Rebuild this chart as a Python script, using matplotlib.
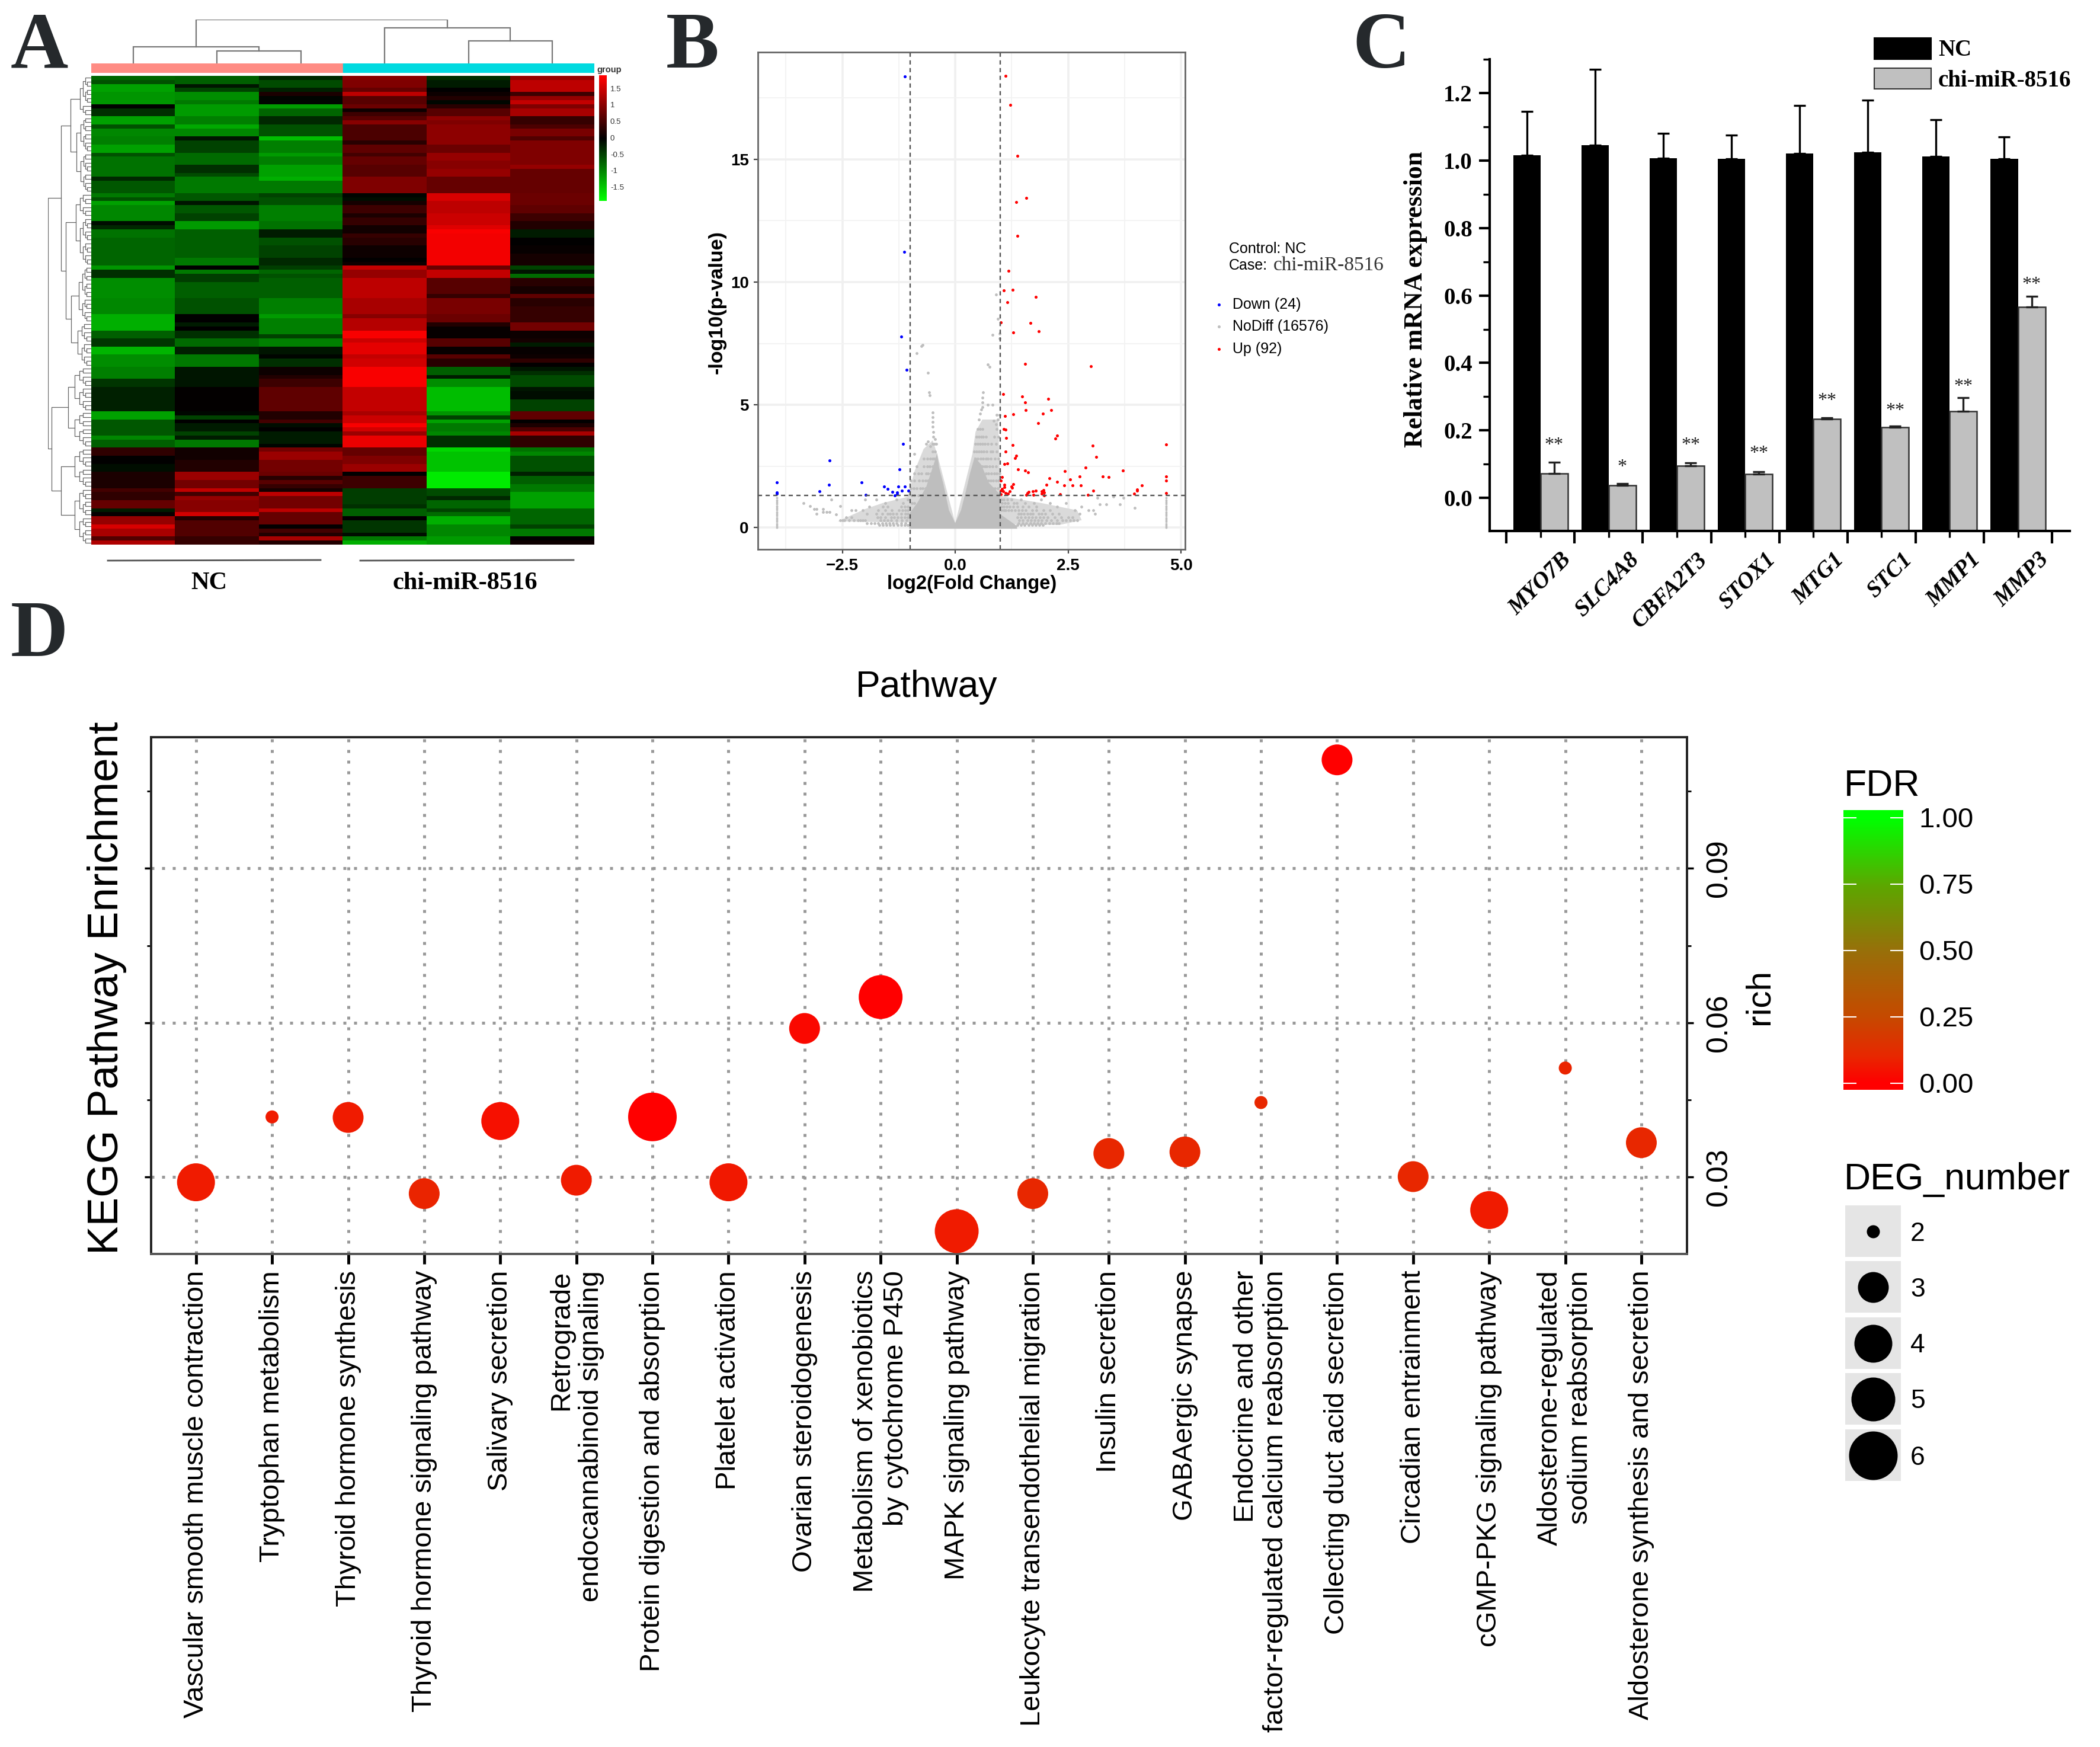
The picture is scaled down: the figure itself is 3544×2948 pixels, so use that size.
import numpy as np
import matplotlib
matplotlib.use('Agg')
import matplotlib.pyplot as plt
from matplotlib.colors import LinearSegmentedColormap
from matplotlib.patches import Rectangle
from matplotlib.ticker import MultipleLocator, NullFormatter

W, H = 3544, 2948
SANS = 'Liberation Sans'
SERIF = 'Liberation Serif'
plt.rcParams['font.family'] = SANS

# panel A: heatmap columns as (end row, value) runs
nc1 = [(1, -.75), (2, -.6), (4, -1.2), (7, -1.1), (8, 0), (10, -.35), (12, -1.2), (13, -.6), (15, -1), (17, -.95),
       (19, -1.2), (20, -.6), (25, -.85), (26, -.3), (29, -.65), (30, -.9), (31, -.6), (32, -1.2), (36, -1), (37, -.1),
       (38, -.3), (40, -.85), (47, -.75), (48, -1.1), (50, -.35), (55, -1.05), (59, -1), (63, -1.3), (65, -.7),
       (67, -.4), (69, -1.35), (72, -1.05), (75, -.95), (77, -.4), (83, -.25), (85, -1.2), (89, -.65), (90, -1),
       (92, -.7), (94, .35), (96, 0), (98, -.1), (102, .2), (103, .5), (105, .35), (107, .75), (108, -.2), (109, .05),
       (111, 1.1), (112, 1.6), (114, 1.25), (115, .6), (116, 1.3)]
nc2 = [(2, -.7), (3, -.15), (4, -.5), (6, -1.05), (7, -.9), (10, -1.15), (12, -.95), (13, -1.25), (15, -1), (16, -.15),
       (19, -.5), (22, -.8), (24, -.35), (25, -.55), (29, -.9), (31, -.65), (32, -.15), (34, -.65), (36, -.5),
       (38, -1.15), (45, -.7), (47, -.9), (48, 0), (49, -.9), (51, -.45), (55, -.7), (59, -.6), (61, 0), (62, -.2),
       (63, 0), (65, -.35), (67, -.8), (69, -.25), (72, -.9), (77, -.15), (83, .02), (84, -.05), (85, -.5), (86, 0),
       (88, -.2), (89, -.5), (90, -.2), (92, -.9), (95, .12), (98, .25), (100, 1.15), (102, .85), (103, 1.45),
       (104, .5), (105, 1.1), (108, 1), (109, 1.55), (110, .25), (114, .6), (116, .4)]
nc3 = [(1, -.3), (3, -.55), (4, -.25), (5, .2), (7, -.03), (8, -1.15), (10, -.75), (12, -.3), (15, -.6), (16, -1.4),
       (19, -.95), (20, -1.15), (22, -.95), (25, -1.2), (26, -1.3), (29, -.9), (30, -.5), (32, -.6), (36, -.95),
       (38, -.85), (40, -.2), (42, -.6), (45, -.5), (47, -.3), (48, -.45), (49, -.75), (50, -.6), (55, -.7), (59, -.95),
       (60, -1.15), (64, -.95), (65, -.5), (67, -.95), (69, -.15), (70, -.03), (72, -.35), (74, .1), (75, .25),
       (77, .45), (83, .7), (85, .25), (86, .5), (87, -.1), (88, 0), (91, -.2), (92, -.03), (93, .85), (95, 1.15),
       (98, .85), (99, .8), (100, .3), (101, .65), (102, .4), (103, .15), (104, 1.4), (107, .85), (108, 1.4), (111, .75),
       (112, .02), (113, .5), (114, .25), (115, 1.25), (116, .25)]
mir1 = [(1, 1), (3, .95), (4, .75), (5, 1.4), (7, .65), (8, .8), (9, .1), (10, .45), (11, .65), (12, 1), (16, .55),
        (17, .3), (19, .7), (20, .5), (22, .75), (25, .65), (29, .95), (30, -.03), (31, -.1), (32, .15), (34, .45),
        (35, .2), (37, .4), (39, .13), (40, .4), (42, .3), (45, .1), (46, 0), (47, .1), (48, 1.45), (50, 1.1), (55, 1.4),
        (59, 1.25), (60, 1), (63, 1.35), (65, 1.85), (66, 1.5), (69, 1.7), (70, 1.45), (72, 1.55), (77, 1.85),
        (83, 1.45), (84, 1.25), (86, 1.5), (87, 1.85), (88, 1.55), (89, 1.15), (92, 1.75), (94, .75), (96, .95),
        (98, 1.15), (99, 0), (102, .45), (106, -.45), (107, -.35), (109, -.7), (110, 0), (113, -.4), (114, -.1),
        (115, -.9), (116, -1.3)]
mir2 = [(1, -.35), (3, -.2), (4, 0), (5, .1), (6, .25), (7, -.05), (8, .3), (10, .65), (11, 1.05), (12, .95), (17, 1.05),
        (19, .8), (21, 1.1), (23, 1), (25, 1.1), (29, .75), (31, 1.6), (34, 1.4), (37, 1.5), (38, 1.65), (39, 1.85),
        (47, 1.8), (48, .8), (50, 1.45), (54, .65), (55, .4), (59, .9), (61, .8), (62, .25), (65, .05), (67, .65),
        (69, .05), (70, .65), (72, .3), (74, -.7), (75, -.2), (77, -1.05), (83, -1.4), (84, -1.1), (85, -.5), (86, -1.2),
        (88, -.9), (89, -1), (92, -.35), (93, -1.6), (98, -1.45), (102, -1.75), (104, -.55), (105, -.3), (107, -.75),
        (108, -.5), (109, -.8), (111, -1.3), (114, -1), (116, -1.15)]
mir3 = [(1, 1.1), (4, 1.4), (5, .45), (6, 1.1), (7, 1.45), (8, .95), (10, 1.25), (12, .4), (13, .55), (15, .9), (16, .6),
        (22, .95), (23, 1.1), (29, .75), (32, .8), (34, .7), (36, .45), (38, .25), (40, -.2), (42, 0), (44, .05),
        (47, .15), (48, -.5), (49, -.15), (50, -.8), (52, .3), (54, .15), (55, .7), (57, .3), (59, .4), (61, .4),
        (63, .85), (65, .1), (66, .15), (67, -.2), (69, .05), (70, .1), (71, .35), (72, .02), (73, -.15), (74, -.35),
        (77, -.55), (78, -.15), (80, -.1), (83, -.5), (85, .7), (86, 0), (87, .2), (88, .55), (89, 1.25), (92, .35),
        (93, -.85), (94, -1), (98, -.6), (99, -.25), (101, -.7), (103, -.9), (107, -1.2), (111, -.75), (112, -.5),
        (114, -.9), (115, 0), (116, .1)]
heat_cols = [nc1, nc2, nc3, mir1, mir2, mir3]
heat_ticks = [1.5, 1, 0.5, 0, -0.5, -1, -1.5]
col_tree = (113, (43, 1, (32, 1, 1)), (91, 1, (58, 1, 1)))
row_tree = (106,
            (74, (51, (28, 7, 3), (37, 9, 10)), (63, (38, 6, 12), (50, (30, 8, 6), (33, 5, 6)))),
            (98, (56, 11, 9), (74, (40, 5, 5), (40, 7, 7))))

# panel B: volcano points
volcano_red = [(1.12, 18.41), (1.22, 17.23), (1.38, 15.14), (1.35, 13.27), (1.57, 13.43), (1.38, 11.88), (1.18, 10.45),
               (1.07, 9.66), (1.27, 9.69), (1.78, 9.39), (1.15, 9.18), (1.01, 8.36), (1.66, 8.34), (1.28, 7.94),
               (1.85, 7.99), (1.55, 6.68), (3.0, 6.56), (1.06, 5.44), (1.48, 5.34), (1.55, 5.09), (2.06, 5.25),
               (1.56, 4.78), (1.29, 4.61), (1.10, 4.55), (2.12, 4.78), (1.94, 4.64), (1.84, 4.25), (1.07, 4.01),
               (1.11, 3.98), (1.13, 3.66), (2.26, 3.74), (2.22, 3.62), (1.27, 3.37), (3.04, 3.33), (4.67, 3.38),
               (1.12, 3.10), (3.12, 2.87), (1.35, 2.93), (1.33, 2.82), (1.15, 2.61), (1.09, 2.59), (1.39, 2.38),
               (2.88, 2.45), (1.55, 2.31), (1.61, 2.26), (2.42, 2.29), (3.71, 2.33), (2.75, 2.09), (3.26, 2.09),
               (3.40, 2.05), (4.67, 2.09), (4.67, 1.92), (1.04, 2.05), (1.01, 1.91), (2.09, 2.0), (2.54, 1.96),
               (2.25, 1.86), (2.02, 1.74), (2.41, 1.72), (2.60, 1.72), (2.78, 1.72), (4.13, 1.71), (1.09, 1.75),
               (1.09, 1.65), (1.28, 1.76), (1.24, 1.68), (4.03, 1.55), (4.03, 1.51), (3.06, 1.49), (1.01, 1.49),
               (1.06, 1.47), (1.12, 1.41), (1.21, 1.48), (1.01, 1.35), (1.78, 1.51), (1.72, 1.47), (1.60, 1.41),
               (1.58, 1.33), (1.92, 1.47), (1.97, 1.44), (1.92, 1.39), (1.97, 1.31), (1.73, 1.32), (2.32, 1.36),
               (2.94, 1.32), (3.96, 1.39), (4.67, 1.40), (1.03, 1.58), (1.17, 1.37), (1.26, 1.62), (1.95, 1.52),
               (1.62, 1.45)]
volcano_blue = [(-1.11, 18.39), (-1.13, 11.23), (-1.20, 7.77), (-1.08, 6.42), (-1.16, 3.41), (-2.78, 2.74),
                (-1.24, 2.37), (-3.95, 1.85), (-2.07, 1.83), (-2.79, 1.74), (-1.57, 1.67), (-1.50, 1.57), (-1.26, 1.68),
                (-1.12, 1.67), (-1.18, 1.49), (-1.04, 1.51), (-1.39, 1.46), (-1.29, 1.44), (-1.29, 1.35), (-1.34, 1.30),
                (-3.01, 1.48), (-1.98, 1.34), (-3.95, 1.43), (-3.95, 1.39)]
volcano_mass_x = [-1.02, -1.02, -.83, -.64, -.48, -.40, -.36, -.26, -.14, 0, .13, .24, .33, .43, .58, .74, .99, .99,
                  1.37, 1.37]
volcano_mass_y = [-.05, .55, 1.03, 1.67, 2.55, 3.03, 2.47, 1.75, .71, .18, .71, 1.51, 2.23, 2.87, 2.55, 1.83, 1.35, .55,
                  .06, -.05]
# outline of the speckled zone around the solid part
speckle_x = [-2.6, -2.0, -1.6, -1.05, -.9, -.7, -.5, -.4, .0, .38, .45, .6, .95, 1.0, 1.25, 1.9, 2.7, 2.8, 2.3]
speckle_y = [.25, .75, 1.0, 1.25, 2.3, 3.2, 3.55, 3.0, .18, 3.0, 3.9, 4.4, 4.4, 1.3, 1.2, 1.0, .7, .3, .1]
volcano_gray = [(-.75, 7.4), (-.72, 7.45), (-.85, 7.1), (-.6, 6.3), (-.58, 5.5), (-.56, 5.4), (-.5, 4.7), (-.5, 4.5),
                (-.5, 4.3), (-.5, 4.1), (-.48, 3.9), (-.48, 3.7), (-.45, 3.6), (.72, 6.65), (.76, 6.55), (.82, 7.85),
                (.9, 9.5), (.95, 8.5), (.98, 7.9), (.98, 7.7), (.62, 5.5), (.6, 5.3), (.6, 5.1), (.72, 5), (.82, 5),
                (.6, 4.9), (.58, 4.8), (.55, 4.65), (.53, 4.4), (.92, 4.6), (.95, 4.4), (.9, 4.2), (.98, 4.6),
                (.85, 4.35), (-.64, 3.4), (-.6, 3.5), (-.55, 3.3), (-.9, 3.0), (-3.36, .99), (-3.22, .87), (-3.12, .75),
                (-3.07, .75), (-3.07, .57), (-2.93, .75), (-2.93, .63), (-2.85, .63), (-2.78, .63), (-2.64, .53),
                (-2.74, 1.15), (-2.54, .87), (3.15, 1.2), (3.2, .95), (3.35, .95), (3.65, .95), (3.98, .8), (3.72, 1.2),
                (3.5, 1.25), (2.95, .7), (3.05, .7), (3.1, .55)]
gray_rows = [
    (4.0, [.5, .55, .6, .92]),
    (3.7, [.47, .53, .58, .62, .68, .86, .96]),
    (3.4, [.45, .5, .55, .6, .66, .72, .8, .9, -.42, -.46, -.5]),
    (3.1, [.42, .47, .52, .57, .63, .7, .78, .83, .92, -.45, -.5]),
    (2.8, [.45, .5, .56, .62, .68, .72, .78, .88, .96, -.46, -.5, -.55, -.62, -.7]),
    (2.5, [.5, .56, .6, .66, .7, .76, .82, .9, -.5, -.56, -.62, -.7, -.85]),
    (2.2, [.55, .62, .68, .74, .8, .86, .92, .98, -.54, -.6, -.65, -.75, -.82, -.9]),
    (1.9, [.62, .68, .74, .78, .84, .9, .96, -.6, -.66, -.72, -.8, -.9, -.98]),
    (1.6, [.7, .76, .82, .88, .94, -.66, -.72, -.78, -.85, -.92, -.98]),
    (1.3, [.8, .84, .9, .95, -.7, -.76, -.82, -.9, -.96]),
    (1.15, [1.02, 1.08, 1.15, 1.25, 1.45, 1.9, -1.05, -1.3, -1.75, -2.0]),
    (1.0, [1.03, 1.1, 1.17, 1.3, 1.37, 1.55, 1.75, 2.1, 2.45, -.82, -.9, -.96, -1.15, -1.55]),
    (.85, [1.02, 1.08, 1.14, 1.2, 1.28, 1.38, 1.5, 1.62, 1.8, 2.25, 2.8, -1.05, -1.12, -1.2, -1.5, -1.6, -1.9]),
    (.7, [1.02, 1.07, 1.12, 1.18, 1.25, 1.32, 1.4, 1.48, 1.56, 1.7, 1.8, 1.95, 2.1, 2.65, -1.05, -1.1, -1.17, -1.25,
          -1.4, -1.55, -1.7, -2.05, -2.2, -2.3]),
    (.55, [1.4, 1.46, 1.52, 1.6, 1.66, 1.72, 1.85, 1.92, 2.0, 2.15, 2.3, 2.75, -1.05, -1.1, -1.2, -1.3, -1.38, -1.45,
           -1.5, -1.62, -1.75, -1.95]),
    (.42, [1.38, 1.45, 1.55, 1.62, 1.7, 1.78, 1.88, 1.96, 2.05, 2.2, 2.35, 2.5, 2.6, -1.05, -1.12, -1.2, -1.28, -1.35,
           -1.42, -1.55, -1.65, -1.72, -2.3, -2.42]),
    (.3, [1.42, 1.5, 1.6, 1.68, 1.76, 1.84, 1.92, 2.02, 2.12, 2.25, 2.38, 2.45, 2.55, 2.62, 2.7, -1.08, -1.18, -1.3,
          -1.42, -1.5, -1.58, -1.66, -2.0, -2.05, -2.1, -2.15, -2.25, -2.35, -2.45, -2.5, -2.55]),
    (.18, [1.4, 1.5, 1.58, 1.66, 1.74, 1.82, 1.9, 2.0, 2.08, 2.16, 2.24, 2.3, -1.1, -1.2, -1.3, -1.38, -1.46, -1.54,
           -1.62, -1.7, -1.78, -1.86, -1.95]),
    (.1, [1.38, 1.46, 1.54, 1.62, 1.7, 1.78, 1.86, 1.94, -1.05, -1.12, -1.2, -1.28, -1.36, -1.44, -1.52, -1.6, -1.68]),
]
lim_fold = [-3.95, 4.67]
lim_stack = [0.0, .08, .16, .24, .32, .4, .48, .56, .64, .72, .8, .88, .96, 1.04, 1.12, 1.2]

# panel C
genes = ['MYO7B', 'SLC4A8', 'CBFA2T3', 'STOX1', 'MTG1', 'STC1', 'MMP1', 'MMP3']
nc_vals = [1.015, 1.045, 1.006, 1.005, 1.02, 1.025, 1.012, 1.005]
nc_tops = [1.145, 1.27, 1.08, 1.075, 1.163, 1.178, 1.12, 1.07]
mir_vals = [.072, .037, .096, .071, .234, .209, .256, .565]
mir_tops = [.105, .042, .104, .077, .238, .213, .298, .597]
stars = ['**', '*', '**', '**', '**', '**', '**', '**']
star_y = [.155, .09, .155, .131, .288, .258, .329, .632]

# panel D
pathways = ['Vascular smooth muscle contraction', 'Tryptophan metabolism', 'Thyroid hormone synthesis',
            'Thyroid hormone signaling pathway', 'Salivary secretion', 'Retrograde\nendocannabinoid signaling',
            'Protein digestion and absorption', 'Platelet activation', 'Ovarian steroidogenesis',
            'Metabolism of xenobiotics\nby cytochrome P450', 'MAPK signaling pathway',
            'Leukocyte transendothelial migration', 'Insulin secretion', 'GABAergic synapse',
            'Endocrine and other\nfactor-regulated calcium reabsorption', 'Collecting duct acid secretion',
            'Circadian entrainment', 'cGMP-PKG signaling pathway', 'Aldosterone-regulated\nsodium reabsorption',
            'Aldosterone synthesis and secretion']
rich = [.029, .0417, .0416, .0268, .0409, .0294, .0417, .029, .0589, .065, .0195, .0268, .0346, .0349, .0445, .1111,
        .0301, .0236, .0512, .0367]
deg_number = [4, 2, 3, 3, 4, 3, 6, 4, 3, 5, 5, 3, 3, 3, 2, 3, 3, 4, 2, 3]
fdr = [.07, .07, .07, .09, .04, .07, 0, .06, .02, 0, .07, .1, .1, .1, .1, 0, .1, .07, .09, .1]
deg_levels = [2, 3, 4, 5, 6]
deg_diam = [22, 52, 64, 74, 82]
fdr_ticks = [0, .25, .5, .75, 1]


def px_axes(x0, y0, x1, y1):
    return fig.add_axes([x0 / W, 1 - y1 / H, (x1 - x0) / W, (y1 - y0) / H])


def expand(runs):
    out = np.zeros(116)
    start = 0
    for end, val in runs:
        out[start:end] = val
        start = end
    return out


def tree_segments(node, start, h_up, segs):
    # walks a nested (height, left, right) tree, an int is a run of leaves
    if isinstance(node, int):
        if node == 1:
            return start + 0.5, 0
        k = node // 2
        h = h_up * 0.72
        node = (h, k, node - k)
    h, left, right = node
    n_left = count_leaves(left)
    a, ha = tree_segments(left, start, h, segs)
    b, hb = tree_segments(right, start + n_left, h, segs)
    segs.append(([a, a, b, b], [ha, h, h, hb]))
    return (a + b) / 2, h


def count_leaves(node):
    if isinstance(node, int):
        return node
    return count_leaves(node[1]) + count_leaves(node[2])


fig = plt.figure(figsize=(W / 100, H / 100), dpi=100, facecolor='white')
over = fig.add_axes([0, 0, 1, 1], zorder=5)
over.set_xlim(0, W)
over.set_ylim(H, 0)
over.axis('off')

for letter, x, y in [('A', 18, 114), ('B', 1124, 114), ('C', 2282, 114), ('D', 18, 1107)]:
    over.text(x, y, letter, family=SERIF, weight='bold', fontsize=97, color='#25292c', ha='left', va='baseline')

# --- A ---
heat = np.column_stack([expand(c) for c in heat_cols])
rg = LinearSegmentedColormap.from_list('gbr', ['#00ff00', '#000000', '#ff0000'])
ax = px_axes(154, 128, 1003, 919)
ax.imshow(heat, cmap=rg, vmin=-1.9, vmax=1.9, aspect='auto', interpolation='nearest')
ax.axis('off')

ax = px_axes(154, 107, 1003, 123)
ax.add_patch(Rectangle((0, 0), 0.5, 1, color='#FF8C84'))
ax.add_patch(Rectangle((0.5, 0), 0.5, 1, color='#00DAE0'))
ax.axis('off')

ax = px_axes(154, 33, 1003, 107)
segs = []
tree_segments(col_tree, 0, 113, segs)
for sx, sy in segs:
    ax.plot(sx, sy, color='#777777', lw=1.6, solid_joinstyle='miter')
ax.set_xlim(0, 6)
ax.set_ylim(0, 113)
ax.axis('off')

ax = px_axes(81, 128, 154, 919)
segs = []
tree_segments(row_tree, 0, 106, segs)
for sx, sy in segs:
    ax.plot(sy, sx, color='#666666', lw=0.9)
ax.set_ylim(116, 0)
ax.set_xlim(106, 0)
ax.axis('off')

ax = px_axes(1011, 127, 1024, 339)
ax.imshow(np.linspace(1.93, -1.9, 200)[:, None], cmap=rg, vmin=-1.9, vmax=1.9, aspect='auto',
          extent=[0, 1, -1.9, 1.93])
ax.axis('off')
for t in heat_ticks:
    ax.annotate(f'{t:g}', (1, t), xytext=(6, 0), textcoords='offset pixels', fontsize=9.5, va='center', color='#333333')
over.text(1007, 118, 'group', fontsize=10.5, weight='bold', color='#333333', va='center')

over.plot([182, 541], [946, 945], color='#555555', lw=2)
over.plot([608, 968], [946, 945], color='#555555', lw=2)
over.text(353, 984, 'NC', family=SERIF, weight='bold', fontsize=30.5, ha='center', va='center')
over.text(785, 984, 'chi-miR-8516', family=SERIF, weight='bold', fontsize=30.5, ha='center', va='center')

# --- B ---
ax = px_axes(1279, 88, 2000, 927)
ax.set_xlim(-4.37, 5.09)
ax.set_ylim(-0.89, 19.37)
ax.grid(which='major', color='#F0F0F0', lw=2.6)
ax.grid(which='minor', color='#F3F3F3', lw=1.4)
ax.set_axisbelow(True)
ax.xaxis.set_major_locator(MultipleLocator(2.5))
ax.yaxis.set_major_locator(MultipleLocator(5))
ax.set_xticks([-3.75, -1.25, 1.25, 3.75], minor=True)
ax.set_yticks([2.5, 7.5, 12.5, 17.5], minor=True)
ax.tick_params(which='minor', length=0)
ax.tick_params(which='major', length=5, width=1.6, color='#444444', labelsize=20, pad=6)
for lab in ax.get_xticklabels() + ax.get_yticklabels():
    lab.set_fontweight('bold')
ax.fill(speckle_x, speckle_y, color='#DADADA', lw=0)
ax.fill(volcano_mass_x, volcano_mass_y, color='#BEBEBE', lw=0)
gx, gy = zip(*volcano_gray)
ax.scatter(gx, gy, s=12, color='#BEBEBE', lw=0)
for y_level, xs in gray_rows:
    ax.scatter(xs, [y_level] * len(xs), s=12, color='#BEBEBE', lw=0)
for fc in lim_fold:
    ax.scatter([fc] * len(lim_stack), lim_stack, s=8, color='#BEBEBE', lw=0)
rx, ry = zip(*volcano_red)
bx, by = zip(*volcano_blue)
ax.scatter(rx, ry, s=13, color='#FF0000', lw=0, zorder=3)
ax.scatter(bx, by, s=13, color='#0000FF', lw=0, zorder=3)
ax.axhline(1.3, color='#555555', ls=(0, (3, 2.5)), lw=1.7, zorder=4)
ax.axvline(-1, color='#555555', ls=(0, (3, 2.5)), lw=1.7, zorder=4)
ax.axvline(1, color='#555555', ls=(0, (3, 2.5)), lw=1.7, zorder=4)
for s in ax.spines.values():
    s.set_color('#666666')
    s.set_linewidth(2)
over.text(1640, 985, 'log2(Fold Change)', fontsize=23.5, weight='bold', ha='center', va='center')
over.text(1210, 510, '-log10(p-value)', fontsize=24.5, weight='bold', ha='center', va='center', rotation=90)
over.text(2074, 420, 'Control: NC', fontsize=18, va='center')
over.text(2074, 448, 'Case:', fontsize=18, va='center')
over.text(2149, 448, 'chi-miR-8516', family=SERIF, fontsize=24, va='center', color='#333333')
for name, col, y in [('Down (24)', '#0000FF', 514), ('NoDiff (16576)', '#BEBEBE', 551), ('Up (92)', '#FF0000', 589)]:
    over.scatter([2057], [y], s=13, color=col, lw=0)
    over.text(2080, y, name, fontsize=18, va='center')

# --- C ---
ax = px_axes(2514, 100, 3493, 896)
pos = np.arange(len(genes))
y_low = -0.098
ax.bar(pos - 0.2, np.array(nc_vals) - y_low, 0.4, bottom=y_low, color='black', zorder=2)
ax.bar(pos + 0.2, np.array(mir_vals) - y_low, 0.4, bottom=y_low, color='#C0C0C0', edgecolor='#333333', lw=1.8, zorder=2)
nc_err = [np.zeros(8), np.array(nc_tops) - np.array(nc_vals)]
mir_err = [np.zeros(8), np.array(mir_tops) - np.array(mir_vals)]
ax.errorbar(pos - 0.2, nc_vals, yerr=nc_err, fmt='none', ecolor='black', elinewidth=2.4, capsize=7, capthick=2.4)
ax.errorbar(pos + 0.2, mir_vals, yerr=mir_err, fmt='none', ecolor='#222222', elinewidth=2.4, capsize=7, capthick=2.4)
ax.set_xlim(-0.745, 7.76)
ax.set_ylim(y_low, 1.3)
ax.spines['top'].set_visible(False)
ax.spines['right'].set_visible(False)
ax.spines['left'].set_linewidth(3)
ax.spines['bottom'].set_linewidth(3)
ax.set_xticks(np.arange(-0.5, 8))
ax.set_xticklabels([])
ax.set_xticks(pos, minor=True)
ax.xaxis.set_minor_formatter(NullFormatter())
ax.tick_params(axis='x', which='major', length=15, width=3)
ax.tick_params(axis='x', which='minor', length=8, width=2.4)
ax.yaxis.set_major_locator(MultipleLocator(0.2))
ax.yaxis.set_minor_locator(MultipleLocator(0.1))
ax.tick_params(axis='y', which='major', length=13, width=3, pad=8)
ax.tick_params(axis='y', which='minor', length=8, width=2.4)
ax.set_yticks(np.arange(0, 1.3, 0.2))
ax.set_yticklabels([f'{v:.1f}' for v in np.arange(0, 1.3, 0.2)], family=SERIF, weight='bold', fontsize=28)
for i, name in enumerate(genes):
    ax.annotate(name, (i + 0.29, 0), xycoords=('data', 'axes fraction'), xytext=(0, -30), textcoords='offset pixels',
                family=SERIF, weight='bold', style='italic', fontsize=28, rotation=45, ha='right', va='top',
                rotation_mode='anchor')
    ax.text(i + 0.2, star_y[i], stars[i], family=SERIF, fontsize=23, ha='center', va='center', color='#222222')
over.text(2389, 505, 'Relative mRNA expression', family=SERIF, weight='bold', fontsize=31.5, rotation=90, ha='center',
          va='center')
over.add_patch(Rectangle((3163, 64), 96, 36, facecolor='black', edgecolor='black', lw=1.5))
over.add_patch(Rectangle((3163, 115), 96, 35, facecolor='#C0C0C0', edgecolor='#333333', lw=1.5))
over.text(3271, 84, 'NC', family=SERIF, weight='bold', fontsize=28, va='center')
over.text(3271, 136, 'chi-miR-8516', family=SERIF, weight='bold', fontsize=28, va='center')

# --- D ---
fdr_map = LinearSegmentedColormap.from_list('fdr', [(0, '#FF0000'), (.1, '#E82800'), (.25, '#C64A00'), (.5, '#98700A'),
                                                    (.75, '#5CA800'), (1, '#00FF00')])
ax = px_axes(255, 1244, 2847, 2116)
x = np.arange(len(pathways))
sizes = [(deg_diam[deg_levels.index(d)] * 0.72) ** 2 for d in deg_number]
ax.scatter(x, rich, s=sizes, c=fdr, cmap=fdr_map, vmin=0, vmax=1, lw=0, zorder=3)
ax.set_xlim(-0.59, 19.6)
ax.set_ylim(0.01507, 0.1155)
ax.set_xticks(x)
ax.set_xticklabels(pathways, rotation=90, fontsize=34, ha='center', va='top', multialignment='right')
ax.grid(axis='both', color='#999999', ls=(0, (1, 2.6)), lw=3.6)
ax.set_axisbelow(True)
ax.yaxis.tick_right()
ax.set_yticks([.03, .06, .09])
ax.set_yticklabels(['0.03', '0.06', '0.09'], rotation=90, va='center', fontsize=36)
ax.set_yticks([.045, .075, .105], minor=True)
ax.tick_params(axis='x', length=12, width=3.5, pad=8)
ax.tick_params(axis='y', which='major', length=8, width=2.5, pad=14)
ax.tick_params(axis='y', which='minor', length=5, width=2)
ax.tick_params(axis='y', which='both', left=True)
for s in ax.spines.values():
    s.set_linewidth(2.8)
    s.set_color('#222222')
ax.spines['bottom'].set_color('#555555')
over.text(1564, 1159, 'Pathway', fontsize=45, ha='center', va='center')
over.text(181, 1667, 'KEGG Pathway Enrichment', fontsize=52.5, rotation=90, ha='center', va='center')
over.text(2970, 1682, 'rich', fontsize=42, rotation=90, ha='center', va='center')

over.text(3112, 1326, 'FDR', fontsize=45, va='center')
ax = px_axes(3111, 1367, 3212, 1839)
ax.imshow(np.linspace(1.03, -.025, 300)[:, None], cmap=fdr_map, vmin=0, vmax=1, aspect='auto',
          extent=[0, 1, -.025, 1.03])
ax.set_xticks([])
ax.set_yticks(fdr_ticks)
ax.set_yticklabels([])
ax.tick_params(axis='y', direction='in', color='white', length=16, width=1.5, left=True, right=True)
for s in ax.spines.values():
    s.set_visible(False)
for t in fdr_ticks:
    ax.annotate(f'{t:.2f}', (1, t), xytext=(26, -4), textcoords='offset pixels', fontsize=34, va='center')

over.text(3112, 1990, 'DEG_number', fontsize=45, va='center')
for d, diam, yc in zip(deg_levels, deg_diam, [2078, 2172, 2267, 2361, 2456]):
    over.add_patch(Rectangle((3114, yc - 44), 94, 87, facecolor='#E5E5E5', lw=0))
    over.scatter([3161], [yc], s=(diam * 0.72) ** 2, color='black', lw=0, zorder=3)
    over.text(3224, yc + 4, str(d), fontsize=32, va='center')

fig.savefig('out.png', dpi=100)
